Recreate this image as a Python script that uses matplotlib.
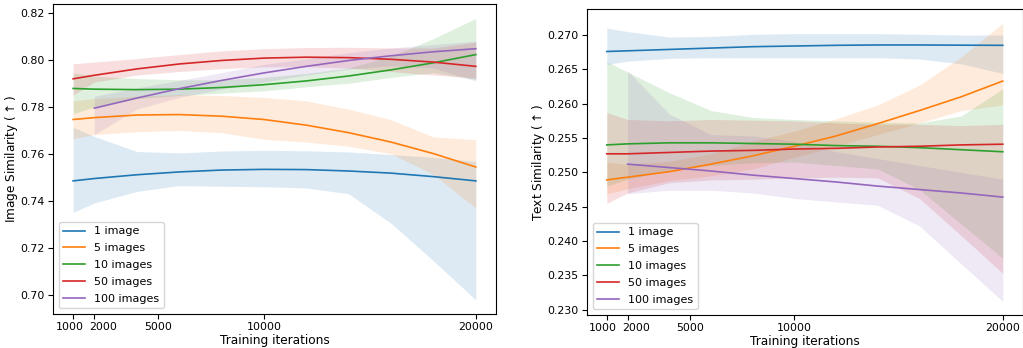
import matplotlib.pyplot as plt
from matplotlib.transforms import ScaledTranslation

iters = [1000, 2000, 4000, 6000, 8000, 10000, 12000, 14000, 16000, 18000, 20000]
iters_100 = iters[1:]  # the 100-image runs start at 2000
labels = ["1 image", "5 images", "10 images", "50 images", "100 images"]
colors = ["tab:blue", "tab:orange", "tab:green", "tab:red", "tab:purple"]
xticks = [1000, 2000, 5000, 10000, 20000]

# --- image similarity (left) ---
img_1 = [0.7485, 0.7495, 0.7511, 0.7523, 0.7531, 0.7534, 0.7533, 0.7527, 0.7518, 0.7503, 0.7485]
img_1_lo = [0.7351, 0.7391, 0.7440, 0.7465, 0.7462, 0.7460, 0.7455, 0.7430, 0.7305, 0.7145, 0.6979]
img_1_hi = [0.7713, 0.7674, 0.7610, 0.7604, 0.7612, 0.7615, 0.7613, 0.7608, 0.7597, 0.7585, 0.7568]
img_5 = [0.7746, 0.7754, 0.7765, 0.7767, 0.7760, 0.7746, 0.7722, 0.7690, 0.7650, 0.7601, 0.7544]
img_5_lo = [0.7665, 0.7682, 0.7694, 0.7699, 0.7690, 0.7662, 0.7650, 0.7632, 0.7600, 0.7512, 0.7369]
img_5_hi = [0.7825, 0.7835, 0.7845, 0.7852, 0.7848, 0.7840, 0.7825, 0.7790, 0.7745, 0.7672, 0.7660]
img_10 = [0.7878, 0.7875, 0.7873, 0.7875, 0.7882, 0.7894, 0.7910, 0.7931, 0.7957, 0.7987, 0.8022]
img_10_lo = [0.7770, 0.7800, 0.7835, 0.7848, 0.7858, 0.7868, 0.7885, 0.7900, 0.7925, 0.7945, 0.7916]
img_10_hi = [0.7945, 0.7930, 0.7920, 0.7915, 0.7915, 0.7925, 0.7942, 0.7965, 0.8015, 0.8090, 0.8176]
img_50 = [0.7919, 0.7934, 0.7961, 0.7982, 0.7997, 0.8007, 0.8011, 0.8009, 0.8002, 0.7990, 0.7972]
img_50_lo = [0.7850, 0.7905, 0.7935, 0.7950, 0.7962, 0.7970, 0.7970, 0.7965, 0.7950, 0.7935, 0.7923]
img_50_hi = [0.7983, 0.7990, 0.8005, 0.8022, 0.8038, 0.8047, 0.8052, 0.8053, 0.8050, 0.8050, 0.8075]
img_100 = [0.7794, 0.7837, 0.7877, 0.7912, 0.7944, 0.7972, 0.7997, 0.8017, 0.8034, 0.8047]
img_100_lo = [0.7682, 0.7790, 0.7840, 0.7875, 0.7905, 0.7935, 0.7960, 0.7975, 0.7965, 0.7909]
img_100_hi = [0.7845, 0.7880, 0.7912, 0.7945, 0.7980, 0.8005, 0.8030, 0.8050, 0.8065, 0.8079]

# --- text similarity (right) ---
txt_1 = [0.2676, 0.2677, 0.2679, 0.2681, 0.2683, 0.2684, 0.2685, 0.26855, 0.26855, 0.26852, 0.2685]
txt_1_lo = [0.2657, 0.2662, 0.2666, 0.2667, 0.2667, 0.2667, 0.2667, 0.2667, 0.2665, 0.2658, 0.2644]
txt_1_hi = [0.2710, 0.2705, 0.2697, 0.2698, 0.2701, 0.2702, 0.2702, 0.2702, 0.2701, 0.2700, 0.2700]
txt_5 = [0.2489, 0.2493, 0.2501, 0.2512, 0.2524, 0.2538, 0.2553, 0.2571, 0.2590, 0.2610, 0.2633]
txt_5_lo = [0.2469, 0.2476, 0.2488, 0.2495, 0.2505, 0.2522, 0.2538, 0.2555, 0.2572, 0.2590, 0.2598]
txt_5_hi = [0.2515, 0.2512, 0.2516, 0.2527, 0.2545, 0.2560, 0.2578, 0.2598, 0.2627, 0.2668, 0.2717]
txt_10 = [0.2540, 0.25415, 0.2543, 0.2543, 0.2542, 0.2541, 0.2539, 0.2538, 0.2536, 0.2533, 0.2530]
txt_10_lo = [0.2480, 0.2490, 0.2503, 0.2510, 0.2514, 0.2515, 0.2510, 0.2505, 0.2475, 0.2425, 0.2375]
txt_10_hi = [0.2661, 0.2646, 0.2616, 0.2590, 0.2580, 0.2577, 0.2575, 0.2573, 0.2572, 0.2582, 0.2622]
txt_50 = [0.2527, 0.2527, 0.2529, 0.2531, 0.2532, 0.2534, 0.2535, 0.2537, 0.2538, 0.2540, 0.2541]
txt_50_lo = [0.2455, 0.2470, 0.2485, 0.2489, 0.2490, 0.2492, 0.2493, 0.2492, 0.2462, 0.2408, 0.2353]
txt_50_hi = [0.2587, 0.2577, 0.2575, 0.2577, 0.2576, 0.2575, 0.2572, 0.2570, 0.2570, 0.2568, 0.2570]
txt_100 = [0.2512, 0.2507, 0.2502, 0.2496, 0.2491, 0.2486, 0.2480, 0.2475, 0.2470, 0.2464]
txt_100_lo = [0.2469, 0.2474, 0.2474, 0.2470, 0.2462, 0.2457, 0.2452, 0.2422, 0.2367, 0.2312]
txt_100_hi = [0.2648, 0.2585, 0.2555, 0.2553, 0.2545, 0.2530, 0.2520, 0.2510, 0.2500, 0.2490]

fig = plt.figure(figsize=(10.23, 3.48), dpi=100)
ax1 = fig.add_axes([0.0518, 0.0977, 0.4330, 0.8894])
ax2 = fig.add_axes([0.5738, 0.0948, 0.4258, 0.8784])


def draw(ax, series, ylabel, ylim, yticks, yfmt):
    for (xs, mean, lo, hi), lab, c in zip(series, labels, colors):
        ax.fill_between(xs, lo, hi, color=c, alpha=0.15, linewidth=0)
        ax.plot(xs, mean, color=c, lw=1.2, label=lab)
    ax.set_xlim(50, 20950)
    ax.set_ylim(*ylim)
    ax.set_xticks(xticks)
    ax.set_yticks(yticks)
    ax.set_yticklabels([yfmt.format(v) for v in yticks])
    ax.tick_params(labelsize=7.9, length=3.5, width=0.8, pad=2.5)
    # nudge the two crowded labels apart, like in the original
    xl = ax.get_xticklabels()
    xl[0].set_transform(xl[0].get_transform() + ScaledTranslation(-2.6 / 72, 0, fig.dpi_scale_trans))
    xl[1].set_transform(xl[1].get_transform() + ScaledTranslation(6.2 / 72, 0, fig.dpi_scale_trans))
    ax.set_xlabel("Training iterations", fontsize=8.7, labelpad=1)
    ax.set_ylabel(ylabel, fontsize=8.7, labelpad=0.5)
    ax.legend(loc="lower left", fontsize=8, handlelength=2.0, labelspacing=0.62,
              borderaxespad=0.5)


draw(ax1,
     [(iters, img_1, img_1_lo, img_1_hi),
      (iters, img_5, img_5_lo, img_5_hi),
      (iters, img_10, img_10_lo, img_10_hi),
      (iters, img_50, img_50_lo, img_50_hi),
      (iters_100, img_100, img_100_lo, img_100_hi)],
     "Image Similarity ($\\uparrow$)", (0.6919, 0.8235),
     [0.70, 0.72, 0.74, 0.76, 0.78, 0.80, 0.82], "{:.2f}")

draw(ax2,
     [(iters, txt_1, txt_1_lo, txt_1_hi),
      (iters, txt_5, txt_5_lo, txt_5_hi),
      (iters, txt_10, txt_10_lo, txt_10_hi),
      (iters, txt_50, txt_50_lo, txt_50_hi),
      (iters_100, txt_100, txt_100_lo, txt_100_hi)],
     "Text Similarity ($\\uparrow$)", (0.22923, 0.27374),
     [0.230, 0.235, 0.240, 0.245, 0.250, 0.255, 0.260, 0.265, 0.270], "{:.3f}")

fig.savefig("out.png", dpi=100)
